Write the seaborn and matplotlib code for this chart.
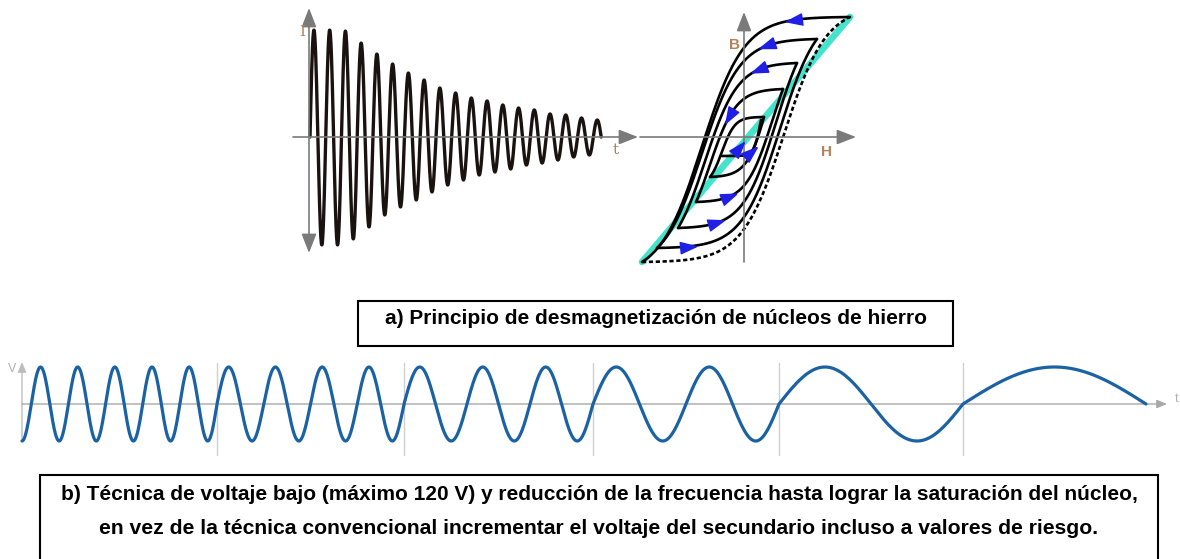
import numpy as np
import matplotlib
matplotlib.use("Agg")
import matplotlib.pyplot as plt
import seaborn as sns
from matplotlib.patches import Rectangle
from matplotlib.path import Path
from matplotlib.markers import MarkerStyle

# ---------------- data ----------------
# a) decaying current: amplitude of each positive / negative half-cycle
peak_amps = [107, 107, 106, 94, 83, 73, 64, 57, 49, 44, 39, 36, 32, 29, 27, 23, 22, 19, 17]
trough_amps = [108, 108, 102, 90, 78, 70, 63, 55, 48, 43, 38, 35, 32, 28, 26, 23, 20, 18]

# hysteresis spiral tips (H, B)
upper_H = [106, 73, 53, 39, 20, 17]
upper_B = [120, 98, 74, 48, 20, 17]
lower_H = [-102, -87, -66, -48, -34, -22]
lower_B = [-125, -111, -91, -65, -40, -19]
desc_hc = [42, 42, 39, 34, 22]      # coercive shift of descending branches
asc_hc = [40, 36, 32, 28, 24, 17]   # coercive shift of ascending branches
desc_k = [42, 38, 33, 26, 13]
asc_k = [42, 38, 33, 26, 20, 7]
desc_arrow_H = [51, 24, 16, -14]
asc_arrow_H = [-57, -29, -16, None, 6]

# b) low-voltage, reducing-frequency waveform
seg_edges = [0, 195, 382, 571, 757, 941, 1124]
seg_cycles = [5.25, 4, 3, 2, 1, 0.5]
seg_phase = [-0.25, 0, 0, 0, 0, 0]

caption_a = "a) Principio de desmagnetización de núcleos de hierro"
caption_b1 = ("b) Técnica de voltaje bajo (máximo 120 V) y reducción de la frecuencia "
              "hasta lograr la saturación del núcleo,")
caption_b2 = ("en vez de la técnica convencional incrementar el voltaje del secundario "
              "incluso a valores de riesgo.")

# ---------------- figure ----------------
sns.set_style("white")
plt.rcParams['font.family'] = ['Liberation Sans', 'DejaVu Sans']

W, H = 1180, 559
fig = plt.figure(figsize=(W / 100, H / 100), dpi=100)


def add_px_axes(x0, y0, x1, y1, xlim, ylim):
    ax = fig.add_axes([x0 / W, 1 - y1 / H, (x1 - x0) / W, (y1 - y0) / H])
    ax.set_xlim(*xlim)
    ax.set_ylim(*ylim)
    ax.set_axis_off()
    return ax


def P(ax, x, y):
    return tuple(ax.transData.inverted().transform((x, H - y)))


AX_GRAY = '#7a7a7a'
LBL = '#b4825a'

# ---- panel a1 : decaying oscillation ----
period_px = 15.74
ax1 = add_px_axes(285, 0, 645, 270, ((285 - 310) / period_px, (645 - 310) / period_px), (137 - 270, 137))
half_amps = []
for i in range(len(peak_amps)):
    half_amps.append(peak_amps[i])
    if i < len(trough_amps):
        half_amps.append(trough_amps[i])
ts, ys = [], []
for i, a in enumerate(half_amps):
    t = np.linspace(i * 0.5, (i + 1) * 0.5, 30)
    ts.append(t)
    ys.append(a * np.sin(2 * np.pi * t))
t1 = np.concatenate(ts)
y1 = np.concatenate(ys)
sns.lineplot(x=t1, y=y1, ax=ax1, sort=False, estimator=None, color='#1a1210', lw=2.4)
ax1.annotate('', xy=P(ax1, 309, 8), xytext=P(ax1, 309, 253),
             arrowprops=dict(arrowstyle='<|-|>,head_length=0.9,head_width=0.35', color=AX_GRAY,
                             lw=1.2, shrinkA=0, shrinkB=0, mutation_scale=13))
ax1.annotate('', xy=P(ax1, 638, 137), xytext=P(ax1, 293, 137),
             arrowprops=dict(arrowstyle='-|>,head_length=0.9,head_width=0.35', color=AX_GRAY,
                             lw=1.2, shrinkA=0, shrinkB=0, mutation_scale=13))
ax1.text(*P(ax1, 302, 32), 'I', color=LBL, fontsize=11, ha='center', va='center', family='DejaVu Serif')
ax1.text(*P(ax1, 616, 150), 't', color=LBL, fontsize=11, ha='center', va='center', family='DejaVu Serif')

# ---- panel a2 : hysteresis spiral ----
ax2 = add_px_axes(625, 0, 875, 275, (625 - 744, 875 - 744), (137 - 275, 137))


def branch(h1, b1, h2, b2, shift, k):
    def f(h):
        return np.tanh((h + shift) / k)
    A = (b1 - b2) / (f(h1) - f(h2))
    c = b1 - A * f(h1)
    return lambda h: A * f(h) + c


# cyan anhysteretic line
sns.lineplot(x=[lower_H[0], upper_H[0]], y=[lower_B[0], upper_B[0]], ax=ax2, sort=False,
             estimator=None, color='#45e3cc', lw=4.8)

# axes of the B-H plane
ax2.annotate('', xy=P(ax2, 744, 12), xytext=P(ax2, 744, 262),
             arrowprops=dict(arrowstyle='-|>,head_length=0.9,head_width=0.35', color=AX_GRAY,
                             lw=1.2, shrinkA=0, shrinkB=0, mutation_scale=13))
ax2.annotate('', xy=P(ax2, 856, 137), xytext=P(ax2, 640, 137),
             arrowprops=dict(arrowstyle='-|>,head_length=0.9,head_width=0.35', color=AX_GRAY,
                             lw=1.2, shrinkA=0, shrinkB=0, mutation_scale=13))
ax2.text(*P(ax2, 735, 45), 'B', color=LBL, fontsize=11, fontweight='bold', ha='center', va='center')
ax2.text(*P(ax2, 826, 152), 'H', color=LBL, fontsize=11, fontweight='bold', ha='center', va='center')

tri = MarkerStyle(Path([(0, 1.0), (-0.62, -0.75), (0.62, -0.75), (0, 1.0)]))


def arrow_on(fn, h, direction):
    dh = 0.5 * direction
    p0 = np.array([h, fn(h)])
    p1 = np.array([h + dh, fn(h + dh)])
    d = p1 - p0
    ang = np.degrees(np.arctan2(d[1], d[0]))
    ax2.plot([h], [fn(h)], marker=tri.rotated(deg=ang - 90), ms=13, color='#1f1fe6', zorder=6, lw=0)


# dashed outer ascending branch of the major loop
fa = branch(lower_H[0], lower_B[0], upper_H[0], upper_B[0], -asc_hc[0], asc_k[0])
hh = np.linspace(lower_H[0], upper_H[0], 200)
sns.lineplot(x=hh, y=fa(hh), ax=ax2, sort=False, estimator=None, color='black', lw=1.9,
             linestyle=(0, (1.6, 1.0)))

for n in range(5):
    # descending branch U_n -> L_n (outer one ends at the major loop tip)
    lo = 0 if n == 0 else n
    fd = branch(upper_H[n], upper_B[n], lower_H[lo], lower_B[lo], desc_hc[n], desc_k[n])
    hh = np.linspace(upper_H[n], lower_H[lo], 200)
    sns.lineplot(x=hh, y=fd(hh), ax=ax2, sort=False, estimator=None, color='black', lw=1.9)
    if n < len(desc_arrow_H):
        arrow_on(fd, desc_arrow_H[n], -1)
    # ascending branch L_{n+1} -> U_{n+1}
    fa = branch(lower_H[n + 1], lower_B[n + 1], upper_H[n + 1], upper_B[n + 1], -asc_hc[n + 1], asc_k[n + 1])
    hh = np.linspace(lower_H[n + 1], upper_H[n + 1], 200)
    sns.lineplot(x=hh, y=fa(hh), ax=ax2, sort=False, estimator=None, color='black', lw=1.9)
    if asc_arrow_H[n] is not None:
        arrow_on(fa, asc_arrow_H[n], 1)

# arrow on the cyan line through the centre
fc = lambda h: lower_B[0] + (h - lower_H[0]) * (upper_B[0] - lower_B[0]) / (upper_H[0] - lower_H[0])
arrow_on(fc, -6, 1)

# ---- panel b : waveform ----
amp_px = 37
ax3 = add_px_axes(0, 350, 1180, 470, (-22, 1158), ((404 - 470) / amp_px, (404 - 350) / amp_px))
xs, vs = [], []
for i in range(len(seg_cycles)):
    s = np.linspace(0, 1, 400)
    xs.append(seg_edges[i] + s * (seg_edges[i + 1] - seg_edges[i]))
    vs.append(np.sin(2 * np.pi * (seg_cycles[i] * s + seg_phase[i])))
xw = np.concatenate(xs)
vw = np.concatenate(vs)
for e in seg_edges[1:-1]:
    ax3.plot([e, e], [P(ax3, 0, 363)[1], P(ax3, 0, 455)[1]], color='#cfcfcf', lw=1.0, zorder=1)
ax3.annotate('', xy=P(ax3, 22, 362), xytext=P(ax3, 22, 441),
             arrowprops=dict(arrowstyle='-|>,head_length=0.6,head_width=0.25', color='#bdbdbd',
                             lw=1.0, shrinkA=0, shrinkB=0, mutation_scale=10))
ax3.annotate('', xy=P(ax3, 1167, 404), xytext=P(ax3, 22, 404),
             arrowprops=dict(arrowstyle='-|>,head_length=0.6,head_width=0.25', color='#a8a8a8',
                             lw=1.0, shrinkA=0, shrinkB=0, mutation_scale=10))
sns.lineplot(x=xw, y=vw, ax=ax3, sort=False, estimator=None, color='#1a62a4', lw=2.3, zorder=3)
ax3.text(*P(ax3, 12, 369), 'V', color='#b0b0b0', fontsize=9, ha='center', va='center')
ax3.text(*P(ax3, 1177, 399), 't', color='#b0b0b0', fontsize=9, ha='center', va='center')

# ---- captions ----
fig.add_artist(Rectangle((358 / W, 1 - 346 / H), 595 / W, 45 / H, transform=fig.transFigure,
                         fill=False, lw=1.5, ec='black'))
fig.text(656 / W, 1 - 318 / H, caption_a, ha='center', va='center', fontsize=15,
         fontweight='bold', color='black')
fig.add_artist(Rectangle((40 / W, -0.05), 1118 / W, 0.05 + 1 - 475 / H, transform=fig.transFigure,
                         fill=False, lw=1.5, ec='black'))
fig.text(599 / W, 1 - 494 / H, caption_b1, ha='center', va='center', fontsize=15,
         fontweight='bold', color='black')
fig.text(599 / W, 1 - 528 / H, caption_b2, ha='center', va='center', fontsize=15.2,
         fontweight='bold', color='black')

fig.savefig('out.png', dpi=100, facecolor='white')
